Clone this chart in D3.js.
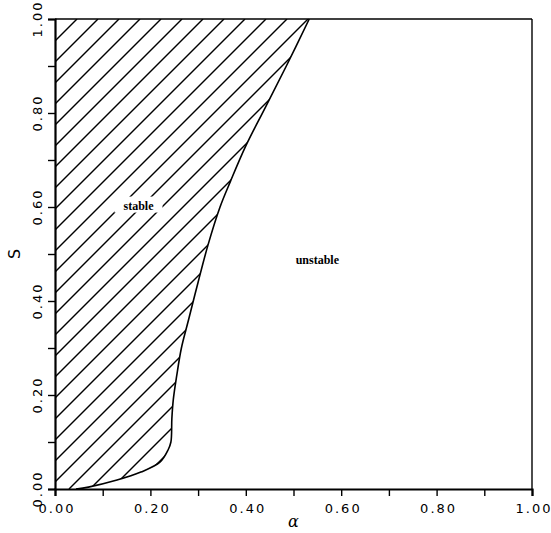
<!DOCTYPE html>
<html>
<head>
<meta charset="utf-8">
<script src="https://cdn.jsdelivr.net/npm/d3@7"></script>
<style>
  body { margin: 0; background: #fff; }
  text { fill: #000; }
</style>
</head>
<body>
<script>
var w = 551;
var h = 533;
var margin = { top: 19, right: 19, bottom: 44, left: 55 };

// stability boundary (alpha, S)
var alphaBoundary = [0.044, 0.07, 0.13, 0.18, 0.22, 0.237, 0.243, 0.245, 0.248, 0.255, 0.265, 0.28, 0.30, 0.321, 0.346, 0.368, 0.40, 0.44, 0.485, 0.533];
var sBoundary     = [0.0, 0.004, 0.019, 0.036, 0.057, 0.083, 0.10, 0.15, 0.19, 0.24, 0.30, 0.36, 0.44, 0.52, 0.60, 0.655, 0.73, 0.81, 0.90, 1.0];

var majorTicks = [0, 0.2, 0.4, 0.6, 0.8, 1.0];
var minorTicks = [0.1, 0.3, 0.5, 0.7, 0.9];

var regionNames = ["stable", "unstable"];
var regionAlpha = [0.175, 0.55];
var regionS = [0.603, 0.488];

var svg = d3.select("body").append("svg").attr("width", w).attr("height", h);

var xScale = d3.scaleLinear().domain([0, 1]).range([margin.left, w - margin.right]);
var yScale = d3.scaleLinear().domain([0, 1]).range([h - margin.bottom, margin.top]);

var boundary = d3.zip(alphaBoundary, sBoundary);
var curveLine = d3.line()
    .x(function (d) { return xScale(d[0]); })
    .y(function (d) { return yScale(d[1]); })
    .curve(d3.curveCatmullRom.alpha(0.5));

// stable region = left of the boundary curve
svg.append("clipPath").attr("id", "stableClip")
    .append("path")
    .attr("d", curveLine(boundary) + "L" + xScale(0) + "," + yScale(1) + "L" + xScale(0) + "," + yScale(0) + "Z");

// hatching, 45 degree lines
var spacing = 21;
var y0 = yScale(0), y1 = yScale(1);
var hatch = [];
for (var k = 327 - spacing * 20; k < 327 + spacing * 20; k += spacing) hatch.push(k);

svg.append("g").attr("clip-path", "url(#stableClip)")
    .selectAll("line").data(hatch).enter().append("line")
    .attr("x1", function (k) { return k - y0; })
    .attr("y1", y0)
    .attr("x2", function (k) { return k - y1; })
    .attr("y2", y1)
    .attr("stroke", "#000")
    .attr("stroke-width", 1.4);

// boundary curve
svg.append("path")
    .datum(boundary)
    .attr("fill", "none")
    .attr("stroke", "#000")
    .attr("stroke-width", 1.6)
    .attr("d", curveLine);

// frame
svg.append("line").attr("x1", xScale(0)).attr("x2", xScale(1)).attr("y1", yScale(1)).attr("y2", yScale(1))
    .attr("stroke", "#000").attr("stroke-width", 1.6);
svg.append("line").attr("x1", xScale(1)).attr("x2", xScale(1)).attr("y1", yScale(1)).attr("y2", yScale(0))
    .attr("stroke", "#000").attr("stroke-width", 1.4);

var fmt = d3.format(".2f");

var xAxis = svg.append("g")
    .attr("transform", "translate(0," + yScale(0) + ")")
    .call(d3.axisBottom(xScale).tickValues(majorTicks.concat(minorTicks)).tickSize(7).tickFormat(""));
var yAxis = svg.append("g")
    .attr("transform", "translate(" + xScale(0) + ",0)")
    .call(d3.axisLeft(yScale).tickValues(majorTicks.concat(minorTicks)).tickSize(7).tickFormat(""));

[xAxis, yAxis].forEach(function (a) {
    a.select(".domain").attr("stroke-width", 2.2);
    a.selectAll(".tick line").attr("stroke-width", 1.4);
});

// tick labels
svg.selectAll(".xlab").data(majorTicks).enter().append("text")
    .attr("class", "xlab")
    .attr("x", function (d) { return xScale(d) + 2; })
    .attr("y", yScale(0) + 24)
    .attr("text-anchor", "middle")
    .style("font-family", "DejaVu Sans")
    .style("font-size", "13px")
    .style("letter-spacing", "2px")
    .text(function (d) { return fmt(d); });

svg.selectAll(".ylab").data(majorTicks).enter().append("text")
    .attr("class", "ylab")
    .attr("transform", function (d) { return "translate(" + (xScale(0) - 13) + "," + yScale(d) + ") rotate(-90)"; })
    .attr("text-anchor", "middle")
    .style("font-family", "DejaVu Sans")
    .style("font-size", "13px")
    .style("letter-spacing", "2px")
    .text(function (d) { return fmt(d); });

// axis titles
svg.append("text")
    .attr("x", xScale(0.5))
    .attr("y", h - 6)
    .attr("text-anchor", "middle")
    .style("font-family", "DejaVu Serif")
    .style("font-style", "italic")
    .style("font-size", "16px")
    .text("α");

svg.append("text")
    .attr("transform", "translate(20," + yScale(0.5) + ") rotate(-90)")
    .attr("text-anchor", "middle")
    .style("font-family", "DejaVu Sans")
    .style("font-size", "16px")
    .text("S");

// region labels, white box behind so the hatching breaks
var labels = svg.selectAll(".region").data(regionNames).enter().append("g")
    .attr("class", "region")
    .attr("transform", function (d, i) { return "translate(" + xScale(regionAlpha[i]) + "," + yScale(regionS[i]) + ")"; });
labels.append("rect")
    .attr("x", -24).attr("y", -9).attr("width", 48).attr("height", 16)
    .attr("fill", "#fff");
labels.append("text")
    .attr("text-anchor", "middle")
    .attr("dy", "0.35em")
    .style("font-family", "Liberation Serif")
    .style("font-weight", "bold")
    .style("font-size", "12px")
    .text(function (d) { return d; });
</script>
</body>
</html>
